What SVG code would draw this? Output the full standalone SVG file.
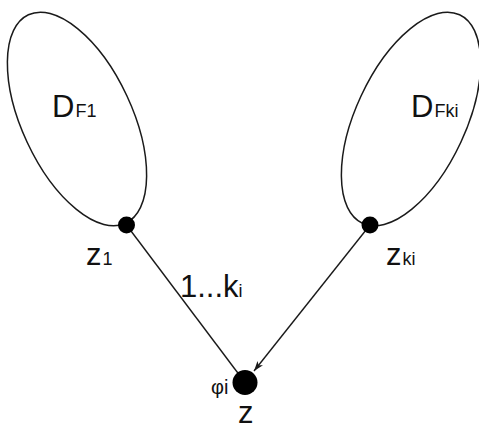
<svg xmlns="http://www.w3.org/2000/svg" width="479" height="430" viewBox="0 0 479 430">
<style>
.loop{fill:none;stroke:#1a1a1a;stroke-width:1.5}
.edge{fill:none;stroke:#1a1a1a;stroke-width:1.4}
.dot{fill:#000}
text{font-family:"Liberation Sans",Arial,sans-serif;fill:#111}
.big{font-size:31px}
.sub{font-size:18px}
</style>
<defs>
<marker id="arr" markerUnits="userSpaceOnUse" markerWidth="11" markerHeight="8" refX="10" refY="4" orient="auto">
<path d="M0,0.5 L10,4 L0,7.5 L2.5,4 z" fill="#1a1a1a"/>
</marker>
</defs>
<rect width="479" height="430" fill="#fff"/>
<g id="connectors">
<line class="edge" x1="126.5" y1="225" x2="245" y2="382.5"/>
<line class="edge" x1="370" y1="225" x2="254" y2="371" marker-end="url(#arr)"/>
</g>
<g id="DF1">
<ellipse class="loop" cx="77" cy="119" rx="55" ry="115" transform="rotate(-25 77 119)"/>
<text x="52" y="117"><tspan class="big">D</tspan><tspan class="sub" dx="1">F1</tspan></text>
</g>
<g id="DFki">
<ellipse class="loop" cx="411" cy="119" rx="55" ry="115" transform="rotate(25 411 119)"/>
<text x="411" y="117"><tspan class="big">D</tspan><tspan class="sub" dx="1">Fki</tspan></text>
</g>
<g id="z1">
<circle class="dot" cx="126.5" cy="225" r="8.5"/>
<text x="86" y="265"><tspan class="big">z</tspan><tspan class="sub" dx="1">1</tspan></text>
</g>
<g id="zki">
<circle class="dot" cx="370" cy="225" r="8.5"/>
<text x="386" y="265"><tspan class="big">z</tspan><tspan class="sub" dx="1">ki</tspan></text>
</g>
<g id="z">
<circle class="dot" cx="245" cy="382.5" r="12.5"/>
<text x="211" y="394" style="font-size:20px">φi</text>
<text x="238" y="423" class="big">z</text>
</g>
<g id="edge-label">
<text x="180" y="297"><tspan class="big">1...k</tspan><tspan class="sub">i</tspan></text>
</g>
</svg>
